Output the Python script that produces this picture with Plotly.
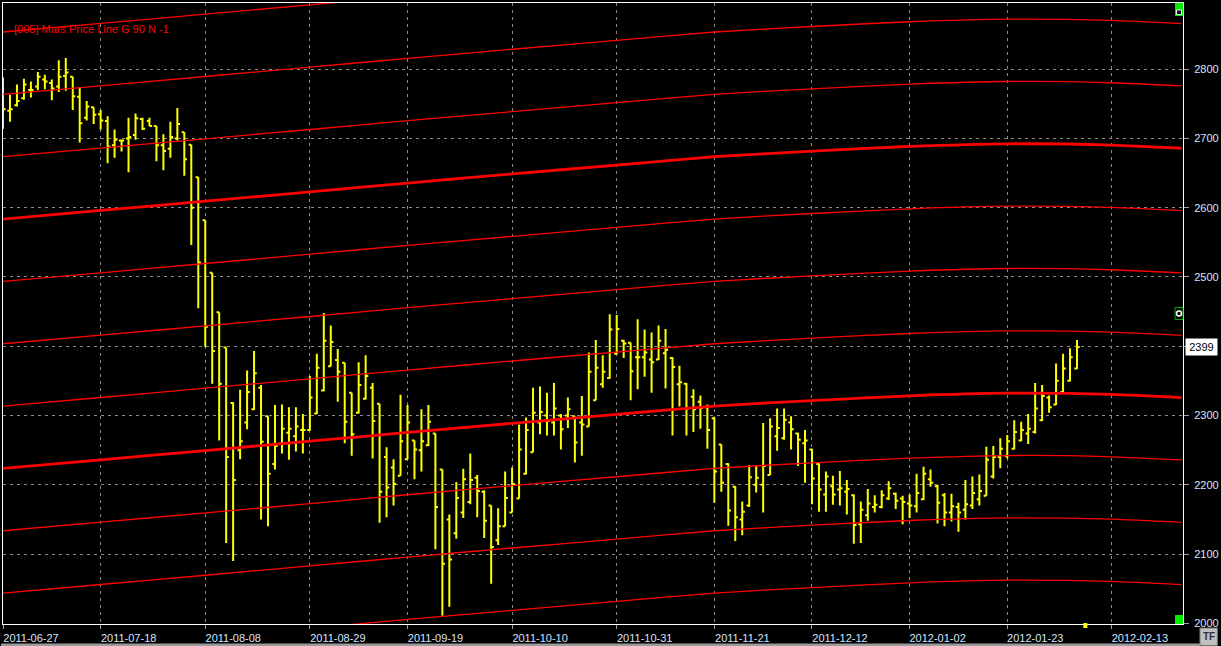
import pandas as pd
import plotly.graph_objects as go

# ---------------- data ----------------
holidays = ['2011-07-04', '2011-09-05', '2011-11-11', '2011-11-24', '2011-12-26', '2012-01-16']

opens = [2760, 2740, 2748, 2758, 2770, 2775, 2785, 2780, 2775, 2790,
         2789, 2760, 2730, 2745, 2735, 2725, 2690, 2697, 2700, 2705,
         2728, 2725, 2718, 2690, 2685, 2700, 2709, 2691, 2644, 2582,
         2506, 2449, 2398, 2318, 2250, 2290, 2309, 2340, 2299, 2230,
         2260, 2275, 2270, 2279, 2279, 2303, 2336, 2371, 2380, 2376,
         2333, 2304, 2324, 2340, 2317, 2240, 2225, 2213, 2237, 2264,
         2250, 2257, 2274, 2222, 2150, 2130, 2160, 2175, 2210, 2190,
         2170, 2120, 2140, 2160, 2180, 2216, 2247, 2290, 2300, 2290,
         2300, 2300, 2299, 2290, 2284, 2322, 2345, 2354, 2389, 2408,
         2405, 2384, 2384, 2381, 2381, 2390, 2383, 2345, 2346, 2327,
         2320, 2312, 2296, 2258, 2230, 2197, 2150, 2170, 2200, 2200,
         2214, 2270, 2267, 2290, 2274, 2260, 2251, 2230, 2186, 2198,
         2193, 2190, 2185, 2143, 2156, 2168, 2168, 2180, 2187, 2180,
         2173, 2169, 2179, 2208, 2198, 2185, 2160, 2168, 2164, 2170,
         2179, 2184, 2212, 2240, 2242, 2252, 2264, 2274, 2276, 2293,
         2326, 2316, 2334, 2350, 2368]
highs = [2788, 2763, 2778, 2786, 2782, 2796, 2792, 2785, 2813, 2816,
         2789, 2774, 2754, 2745, 2741, 2732, 2713, 2698, 2730, 2736,
         2730, 2730, 2718, 2706, 2724, 2744, 2709, 2691, 2644, 2582,
         2506, 2449, 2398, 2319, 2337, 2365, 2393, 2344, 2299, 2315,
         2316, 2312, 2312, 2302, 2357, 2389, 2448, 2430, 2396, 2376,
         2333, 2377, 2387, 2347, 2317, 2254, 2237, 2330, 2315, 2264,
         2309, 2315, 2274, 2222, 2157, 2204, 2223, 2245, 2214, 2192,
         2170, 2166, 2219, 2225, 2287, 2297, 2340, 2342, 2333, 2347,
         2302, 2326, 2299, 2328, 2391, 2409, 2387, 2446, 2445, 2409,
         2405, 2439, 2424, 2420, 2430, 2425, 2384, 2372, 2347, 2338,
         2329, 2316, 2297, 2258, 2231, 2198, 2176, 2228, 2228, 2289,
         2296, 2310, 2310, 2299, 2275, 2279, 2252, 2231, 2219, 2213,
         2220, 2207, 2186, 2176, 2194, 2185, 2192, 2205, 2189, 2184,
         2186, 2216, 2226, 2222, 2200, 2188, 2187, 2174, 2207, 2212,
         2215, 2255, 2256, 2267, 2272, 2293, 2291, 2302, 2347, 2344,
         2329, 2375, 2389, 2397, 2409]
lows = [2714, 2724, 2746, 2756, 2759, 2770, 2771, 2755, 2767, 2769,
        2741, 2694, 2726, 2721, 2713, 2664, 2672, 2681, 2651, 2698,
        2712, 2718, 2667, 2654, 2672, 2697, 2646, 2546, 2455, 2399,
        2346, 2264, 2116, 2090, 2237, 2280, 2308, 2150, 2140, 2222,
        2245, 2236, 2248, 2245, 2278, 2302, 2335, 2371, 2320, 2260,
        2242, 2303, 2323, 2238, 2145, 2153, 2170, 2213, 2237, 2208,
        2219, 2256, 2107, 2011, 2024, 2122, 2152, 2172, 2153, 2123,
        2057, 2113, 2140, 2160, 2180, 2215, 2247, 2273, 2271, 2271,
        2251, 2282, 2232, 2242, 2284, 2322, 2340, 2353, 2388, 2383,
        2322, 2338, 2356, 2333, 2380, 2339, 2271, 2313, 2271, 2276,
        2281, 2252, 2174, 2190, 2141, 2119, 2127, 2168, 2189, 2160,
        2214, 2249, 2265, 2251, 2227, 2203, 2172, 2161, 2161, 2171,
        2170, 2157, 2115, 2116, 2148, 2160, 2166, 2178, 2165, 2143,
        2152, 2160, 2178, 2197, 2144, 2140, 2147, 2132, 2150, 2165,
        2170, 2184, 2209, 2224, 2238, 2251, 2263, 2259, 2274, 2292,
        2304, 2315, 2334, 2349, 2367]
closes = [2742, 2742, 2754, 2778, 2770, 2789, 2782, 2772, 2789, 2795,
          2761, 2722, 2746, 2734, 2726, 2688, 2698, 2697, 2702, 2729,
          2714, 2718, 2690, 2682, 2702, 2721, 2670, 2600, 2521, 2428,
          2393, 2346, 2240, 2207, 2263, 2334, 2361, 2262, 2216, 2256,
          2281, 2281, 2284, 2279, 2326, 2369, 2408, 2406, 2363, 2291,
          2273, 2344, 2357, 2292, 2190, 2196, 2201, 2263, 2290, 2251,
          2263, 2291, 2168, 2086, 2092, 2181, 2208, 2207, 2191, 2148,
          2110, 2140, 2181, 2201, 2251, 2279, 2304, 2305, 2292, 2310,
          2280, 2309, 2261, 2287, 2363, 2369, 2363, 2424, 2425, 2404,
          2364, 2384, 2391, 2377, 2408, 2395, 2370, 2348, 2310, 2309,
          2311, 2279, 2219, 2203, 2163, 2153, 2161, 2211, 2210, 2227,
          2284, 2282, 2294, 2280, 2265, 2264, 2209, 2193, 2212, 2186,
          2195, 2194, 2142, 2164, 2173, 2171, 2185, 2195, 2177, 2175,
          2170, 2188, 2216, 2203, 2174, 2160, 2169, 2160, 2172, 2188,
          2191, 2236, 2240, 2252, 2263, 2276, 2279, 2281, 2310, 2328,
          2312, 2350, 2368, 2384, 2399]

dates = pd.bdate_range('2011-06-27', periods=len(closes), freq='C', holidays=holidays)

tick_dates = ['2011-06-27', '2011-07-18', '2011-08-08', '2011-08-29', '2011-09-19', '2011-10-10',
              '2011-10-31', '2011-11-21', '2011-12-12', '2012-01-02', '2012-01-23', '2012-02-13']
tick_labels = list(tick_dates)

price_ticks = [2000, 2100, 2200, 2300, 2400, 2500, 2600, 2700, 2800]
# the 2400 label is covered by the last-price box in the original
price_labels = ['2000', '2100', '2200', '2300', '', '2500', '2600', '2700', '2800']

# Mars price line (base curve) sampled off the chart, plus its 90-point grid offsets
mars_dates = ['2011-06-27', '2011-07-18', '2011-08-08', '2011-08-29', '2011-09-19', '2011-10-10',
              '2011-10-31', '2011-11-21', '2011-12-12', '2012-01-02', '2012-01-23', '2012-02-13',
              '2012-02-27']
mars_base = [2223.6, 2236.0, 2249.4, 2262.9, 2275.6, 2288.7,
             2301.6, 2313.6, 2321.6, 2328.4, 2332.2, 2330.4,
             2325.8]
mars_offsets = [-270, -180, -90, 0, 90, 180, 270, 360, 450, 540, 630]

last_price = 2399
title_text = '[005] Mars Price Line G 90 N -1'

# ---------------- figure ----------------
W, H = 1221, 646
ML, MR, MT, MB = 2, 35, 2, 22
PW, PH = W - ML - MR, H - MT - MB


def px(x):
    return (x - ML) / PW


def py(y):
    return (H - MB - y) / PH


fig = go.Figure()
fig.add_trace(go.Ohlc(
    x=dates, open=opens, high=highs, low=lows, close=closes,
    increasing=dict(line=dict(color='#ffff00', width=2)),
    decreasing=dict(line=dict(color='#ffff00', width=2)),
    tickwidth=0.38, hoverinfo='x+y'))

for off in mars_offsets:
    thick = (off % 360 == 0)
    fig.add_trace(go.Scatter(
        x=mars_dates, y=[b + off for b in mars_base], mode='lines',
        line=dict(color='#ff0000', width=2.8 if thick else 1.3, shape='spline', smoothing=0.6),
        hoverinfo='skip'))

label_font = dict(family='Arial, Liberation Sans, sans-serif', size=11, color='#d8e4ff')
grid = dict(showgrid=True, gridcolor='#8a8a8a', gridwidth=1, griddash='3px,4px',
            showline=True, mirror=True, linecolor='#ffffff', linewidth=1, zeroline=False)

fig.update_layout(
    width=W, height=H,
    margin=dict(l=ML, r=MR, t=MT, b=MB, pad=0),
    paper_bgcolor='#000000', plot_bgcolor='#000000',
    showlegend=False,
    xaxis=dict(type='date', range=['2011-06-27', '2012-02-27 04:48'],
               rangebreaks=[dict(bounds=['sat', 'mon']), dict(values=holidays)],
               rangeslider=dict(visible=False),
               tickmode='array', tickvals=tick_dates, ticktext=tick_labels,
               ticks='outside', ticklen=4, tickcolor='#a0a0a0',
               tickfont=label_font, ticklabelshift=28, **grid),
    yaxis=dict(side='right', range=[1999, 2895.5],
               tickmode='array', tickvals=price_ticks, ticktext=price_labels,
               ticks='outside', ticklen=5, tickcolor='#a0a0a0',
               tickfont=label_font, ticklabelstandoff=3, **grid),
)

fig.add_annotation(x=px(11), y=py(28), xref='paper', yref='paper', xanchor='left', yanchor='middle',
                   text=title_text, showarrow=False,
                   font=dict(family='Arial, Liberation Sans, sans-serif', size=11, color='#ff0000'))
fig.add_annotation(x=px(1188), xref='paper', xanchor='left', y=last_price, yref='y',
                   text=str(last_price), showarrow=False, bgcolor='#ffffff', borderpad=2,
                   width=27, align='center',
                   font=dict(family='Arial, Liberation Sans, sans-serif', size=11, color='#000000'))

P = dict(xref='paper', yref='paper')
shapes = [
    # top-right green button
    dict(type='rect', x0=px(1178), x1=px(1186), y0=py(15), y1=py(2), fillcolor='#00ee00',
         line=dict(width=0), **P),
    dict(type='rect', x0=px(1179.5), x1=px(1184.5), y0=py(13.5), y1=py(9), fillcolor='#000000',
         line=dict(color='#ffffff', width=1), **P),
    # middle icon
    dict(type='rect', x0=px(1178), x1=px(1186), y0=py(319), y1=py(307), fillcolor='#000000',
         line=dict(color='#00aa00', width=1), **P),
    dict(type='circle', x0=px(1179.5), x1=px(1184.5), y0=py(315.5), y1=py(310.5), fillcolor='#000000',
         line=dict(color='#ffffff', width=1.5), **P),
    # bottom-right green button
    dict(type='rect', x0=px(1178), x1=px(1186), y0=py(624), y1=py(615), fillcolor='#00ee00',
         line=dict(width=0), **P),
    # yellow marker
    dict(type='rect', x0=px(1086), x1=px(1090), y0=py(628), y1=py(623), fillcolor='#ffff00',
         line=dict(width=0), **P),
    # TF box
    dict(type='rect', x0=px(1203), x1=px(1220.5), y0=py(645.5), y1=py(628), fillcolor='#c0c0c0',
         line=dict(color='#707070', width=1), **P),
    # bottom window strip
    dict(type='rect', x0=px(0), x1=px(1203), y0=py(646), y1=py(643.5), fillcolor='#9a9a9a',
         line=dict(width=0), **P),
]
fig.update_layout(shapes=shapes)

fig.add_annotation(x=px(1212), y=py(637), xref='paper', yref='paper', xanchor='center', yanchor='middle',
                   text='<b>TF</b>', showarrow=False,
                   font=dict(family='Arial, Liberation Sans, sans-serif', size=10, color='#303030'))

fig.write_html('out.html', config={'displayModeBar': False},
               post_script="document.body.style.margin='0';document.body.style.overflow='hidden';")
